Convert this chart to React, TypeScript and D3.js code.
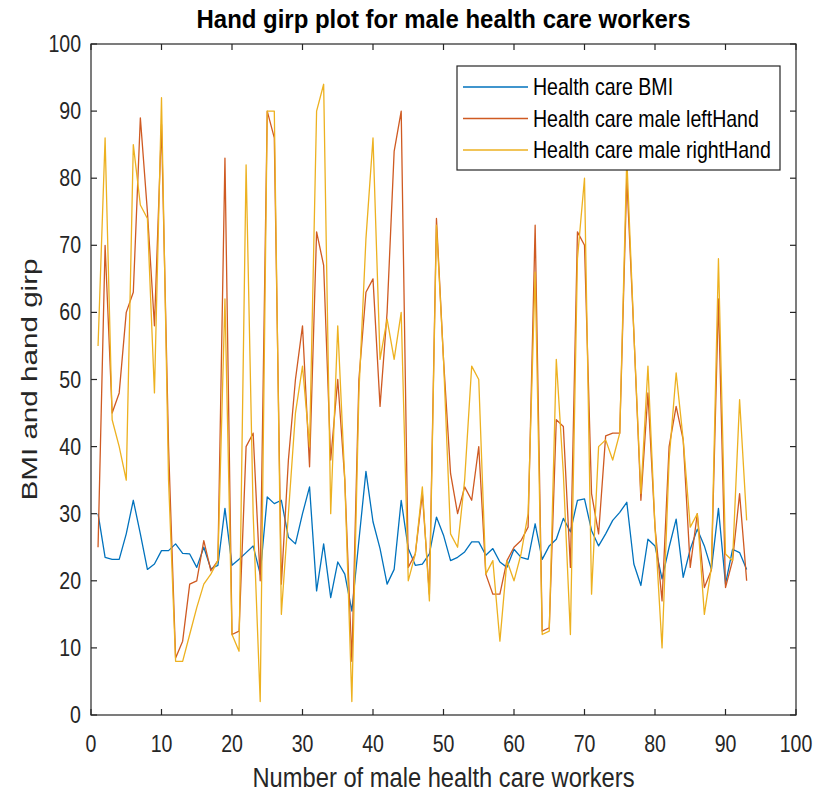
import React from "react";
import * as d3 from "d3";

const bmi = [
  30, 23.5, 23.2, 23.2, 27, 32, 27, 21.7, 22.5, 24.5,
  24.5, 25.5, 24.1, 24, 22, 25, 21.8, 22.3, 30.8, 22.3,
  23.2, 24.2, 25.2, 21, 32.5, 31.5, 32, 26.5, 25.5, 30,
  34, 18.5, 25.5, 17.5, 22.8, 21, 15.5, 26, 36.3, 28.8,
  24.8, 19.5, 21.7, 32, 24.8, 22.3, 22.5, 24, 29.5, 26.8,
  23, 23.5, 24.3, 25.8, 25.8, 23.8, 24.8, 22.8, 22, 24.7,
  23.5, 23.2, 28.5, 23.2, 25.2, 26.2, 29.3, 27.3, 32, 32.2,
  27.5, 25.2, 27, 29, 30.2, 31.7, 22.5, 19.3, 26.2, 25.2,
  20.3, 25, 29.2, 20.5, 24.7, 27.7, 25.2, 21.7, 30.8, 19.5,
  24.7, 24.2, 21.7,
];

const leftHand = [
  25, 70, 45, 48, 60, 63, 89, 75, 58, 88,
  40, 8.5, 11, 19.5, 20, 26, 21.5, 23, 83, 12,
  12.5, 40, 42, 20, 90, 86, 19.5, 38, 50, 58,
  37, 72, 67, 38, 50, 35, 8, 50, 63, 65,
  46, 60, 84, 90, 22, 24, 33, 18, 74, 53,
  36, 30, 34, 32, 40, 21, 18, 18, 23, 25,
  26, 28, 73, 12.5, 13, 44, 43, 22, 72, 70,
  33, 27, 41.6, 42, 42, 80, 57, 32, 48, 28,
  17, 40, 46, 41, 22, 30, 19, 21.6, 62, 19,
  23, 33, 20,
];

const rightHand = [
  55, 86, 44, 40, 35, 85, 76, 74, 48, 92,
  35, 8, 8, 12, 16, 19.5, 21, 23, 62, 12,
  9.5, 82, 30, 2, 90, 90, 15, 30, 45, 52,
  40, 90, 94, 30, 58, 35, 2, 48, 71, 86,
  53, 59, 53, 60, 20, 24, 34, 17, 73, 53,
  27, 25, 35, 52, 50, 21, 23, 11, 23, 20,
  24, 30, 66, 12, 12.5, 53, 36, 12, 68, 80,
  18, 40, 41, 38, 42, 83, 57, 33, 52, 28,
  10, 38, 51, 41, 28, 30, 15, 22, 68, 24,
  23, 47, 29,
];

const seriesNames = [
  "Health care BMI",
  "Health care male leftHand",
  "Health care male rightHand",
];
const seriesColors = ["#0072BD", "#CF5A22", "#EDB120"];
const xTicks = [0, 10, 20, 30, 40, 50, 60, 70, 80, 90, 100];
const yTicks = [0, 10, 20, 30, 40, 50, 60, 70, 80, 90, 100];

const W = 817;
const H = 799;
const L = 91, R = 796, T = 44, B = 715;
const FONT = "'Liberation Sans', Arial, Helvetica, sans-serif";
const SX = 0.85;

export default function App() {
  const x = d3.scaleLinear().domain([0, 100]).range([L, R]);
  const y = d3.scaleLinear().domain([0, 100]).range([B, T]);
  const line = d3
    .line<number>()
    .x((_, i) => x(i + 1))
    .y((d) => y(d));
  const series = [bmi, leftHand, rightHand];
  const tk = 6;
  const axisColor = "#262626";

  return (
    <svg
      width={W}
      height={H}
      style={{ position: "absolute", left: 0, top: 0, background: "#fff" }}
      fontFamily={FONT}
    >
      <rect x={0} y={0} width={W} height={H} fill="#fff" />
      <g>
        {series.map((s, k) => (
          <path
            key={k}
            d={line(s) || ""}
            fill="none"
            stroke={seriesColors[k]}
            strokeWidth={1.3}
            strokeLinejoin="round"
          />
        ))}
      </g>
      <rect x={L} y={T} width={R - L} height={B - T} fill="none" stroke={axisColor} strokeWidth={1.2} />
      {xTicks.map((t) => (
        <g key={"x" + t}>
          <line x1={x(t)} x2={x(t)} y1={B} y2={B - tk} stroke={axisColor} strokeWidth={1.2} />
          <line x1={x(t)} x2={x(t)} y1={T} y2={T + tk} stroke={axisColor} strokeWidth={1.2} />
          <text
            transform={`translate(${x(t)}, 752) scale(${SX}, 1)`}
            textAnchor="middle"
            fontSize={23}
            fill={axisColor}
          >
            {t}
          </text>
        </g>
      ))}
      {yTicks.map((t) => (
        <g key={"y" + t}>
          <line x1={L} x2={L + tk} y1={y(t)} y2={y(t)} stroke={axisColor} strokeWidth={1.2} />
          <line x1={R} x2={R - tk} y1={y(t)} y2={y(t)} stroke={axisColor} strokeWidth={1.2} />
          <text
            transform={`translate(${L - 10}, ${y(t) + 8}) scale(${SX}, 1)`}
            textAnchor="end"
            fontSize={23}
            fill={axisColor}
          >
            {t}
          </text>
        </g>
      ))}
      <text
        x={(L + R) / 2}
        y={28}
        textAnchor="middle"
        fontSize={25}
        fontWeight="bold"
        fill="#000"
        textLength={494}
        lengthAdjust="spacingAndGlyphs"
      >
        Hand girp plot for male health care workers
      </text>
      <text
        x={(L + R) / 2}
        y={787}
        textAnchor="middle"
        fontSize={27}
        fill={axisColor}
        textLength={382}
        lengthAdjust="spacingAndGlyphs"
      >
        Number of male health care workers
      </text>
      <text
        transform={`translate(37, ${(T + B) / 2}) scale(${SX}, 1) rotate(-90)`}
        textAnchor="middle"
        fontSize={27}
        fill={axisColor}
        textLength={242}
        lengthAdjust="spacingAndGlyphs"
      >
        BMI and hand girp
      </text>
      <g>
        <rect x={457} y={66} width={323} height={104} fill="#fff" stroke={axisColor} strokeWidth={1.2} />
        {seriesNames.map((n, k) => (
          <g key={n}>
            <line
              x1={463}
              x2={528}
              y1={87 + k * 31.5}
              y2={87 + k * 31.5}
              stroke={seriesColors[k]}
              strokeWidth={1.5}
            />
            <text
              transform={`translate(533, ${87 + k * 31.5 + 8}) scale(${SX}, 1)`}
              fontSize={23}
              fill="#000"
            >
              {n}
            </text>
          </g>
        ))}
      </g>
    </svg>
  );
}
